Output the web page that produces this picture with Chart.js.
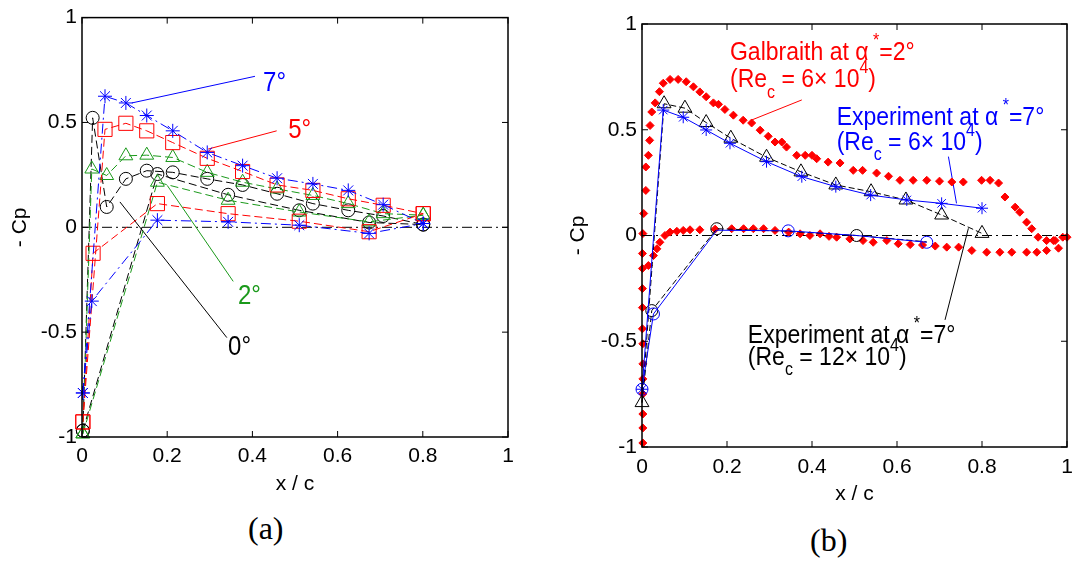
<!DOCTYPE html>
<html>
<head>
<meta charset="utf-8">
<script src="https://cdn.jsdelivr.net/npm/chart.js@4.4.0/dist/chart.umd.min.js"></script>
<style>
    body { margin: 0; background: #fff; width: 1073px; height: 568px; overflow: hidden; position: relative; }
    #panel-a { position: absolute; left: 0; top: 0; }
    #panel-b { position: absolute; left: 545px; top: 0; }
    .cap { position: absolute; font-family: "Liberation Serif", "DejaVu Serif", serif; font-size: 32px; line-height: 1; color: #000; }
</style>
</head>
<body>
<canvas id="panel-a" width="530" height="501"></canvas>
<canvas id="panel-b" width="545" height="511"></canvas>
<div class="cap" style="left:248px; top:512px;">(a)</div>
<div class="cap" style="left:810px; top:524px;">(b)</div>
<script>
// ---- panel (a): -Cp vs x/c for four incidences, upper and lower surface taps
let a7UpX = [0.002, 0.054, 0.103, 0.152, 0.213, 0.294, 0.377, 0.458, 0.542, 0.625, 0.707, 0.801];
let a7UpY = [-0.79, 0.625, 0.593, 0.533, 0.46, 0.357, 0.294, 0.234, 0.207, 0.176, 0.108, 0.018];
let a7LoX = [0.002, 0.023, 0.177, 0.343, 0.51, 0.674, 0.801];
let a7LoY = [-0.79, -0.352, 0.034, 0.026, 0.01, -0.029, 0.018];

let a5UpX = [0.002, 0.054, 0.103, 0.152, 0.213, 0.294, 0.377, 0.458, 0.542, 0.625, 0.707, 0.801];
let a5UpY = [-0.928, 0.467, 0.496, 0.46, 0.404, 0.329, 0.266, 0.202, 0.176, 0.136, 0.105, 0.065];
let a5LoX = [0.002, 0.026, 0.177, 0.343, 0.51, 0.674, 0.801];
let a5LoY = [-0.928, -0.124, 0.113, 0.065, 0.029, -0.021, 0.065];

let a2UpX = [0.002, 0.023, 0.058, 0.103, 0.152, 0.213, 0.294, 0.377, 0.458, 0.542, 0.625, 0.707, 0.801];
let a2UpY = [-0.985, 0.278, 0.247, 0.341, 0.344, 0.333, 0.262, 0.215, 0.183, 0.152, 0.113, 0.065, 0.058];
let a2LoX = [0.002, 0.177, 0.343, 0.51, 0.674, 0.801];
let a2LoY = [-0.985, 0.215, 0.129, 0.073, 0.026, 0.058];

let a0UpX = [0.002, 0.025, 0.058, 0.103, 0.152, 0.213, 0.294, 0.377, 0.458, 0.542, 0.625, 0.707, 0.801];
let a0UpY = [-0.97, 0.522, 0.097, 0.231, 0.27, 0.262, 0.231, 0.202, 0.16, 0.113, 0.081, 0.054, 0.013];
let a0LoX = [0.002, 0.177, 0.343, 0.51, 0.674, 0.801];
let a0LoY = [-0.97, 0.254, 0.155, 0.081, 0.023, 0.013];

// leader lines from the curves to the angle labels
let lead7X = [0.117, 0.406], lead7Y = [0.593, 0.72];
let lead5X = [0.296, 0.457], lead5Y = [0.373, 0.46];
let lead2X = [0.2, 0.355], lead2Y = [0.2, -0.258];
let lead0X = [0.089, 0.34], lead0Y = [0.121, -0.526];

// ---- panel (b): Galbraith computation vs experiment
let galUpX = [0.002, 0.002, 0.002, 0.002, 0.002, 0.002, 0.002, 0.001, 0.001, 0.001, 0.001, 0.001, 0.002, 0.004, 0.009, 0.009,
    0.015, 0.018, 0.019, 0.023, 0.031, 0.041, 0.05, 0.066, 0.085, 0.104, 0.121, 0.136, 0.151, 0.168, 0.18, 0.195, 0.215,
    0.238, 0.258, 0.278, 0.297, 0.313, 0.329, 0.34, 0.364, 0.384, 0.4, 0.411, 0.438, 0.466, 0.497, 0.519, 0.552, 0.58,
    0.607, 0.638, 0.67, 0.7, 0.729, 0.756, 0.799, 0.819, 0.839, 0.854, 0.878, 0.889, 0.905, 0.917, 0.932, 0.952, 0.972, 0.99, 1.0];
let galUpY = [-0.981, -0.91, -0.844, -0.749, -0.678, -0.607, -0.512, -0.441, -0.341, -0.251, -0.156, -0.085, 0.009, 0.104, 0.213, 0.324,
    0.379, 0.45, 0.52, 0.584, 0.627, 0.68, 0.72, 0.738, 0.738, 0.727, 0.703, 0.679, 0.656, 0.627, 0.62, 0.596, 0.569,
    0.545, 0.532, 0.498, 0.469, 0.442, 0.442, 0.418, 0.379, 0.379, 0.379, 0.363, 0.347, 0.343, 0.308, 0.308, 0.295, 0.28,
    0.261, 0.261, 0.261, 0.257, 0.253, 0.253, 0.261, 0.261, 0.248, 0.182, 0.134, 0.11, 0.063, 0.032, -0.008, -0.024, -0.024, -0.008, -0.008];
let galLoX = [0.015, 0.027, 0.035, 0.042, 0.054, 0.066, 0.082, 0.097, 0.113, 0.136, 0.172, 0.211, 0.239, 0.262, 0.286, 0.313,
    0.345, 0.372, 0.395, 0.419, 0.44, 0.458, 0.489, 0.52, 0.544, 0.576, 0.603, 0.631, 0.66, 0.69, 0.717, 0.745, 0.776,
    0.811, 0.842, 0.87, 0.905, 0.929, 0.952, 0.968, 0.98];
let galLoY = [-0.142, -0.095, -0.063, -0.032, 0.0, 0.016, 0.02, 0.024, 0.027, 0.027, 0.03, 0.032, 0.032, 0.032, 0.032, 0.024,
    0.016, 0.008, 0.0, 0.008, -0.004, -0.008, -0.016, -0.024, -0.032, -0.024, -0.039, -0.043, -0.045, -0.05, -0.055, -0.055, -0.071,
    -0.079, -0.079, -0.079, -0.079, -0.079, -0.071, -0.024, -0.06];

let exp6UpX = [0, 0.05, 0.097, 0.151, 0.207, 0.293, 0.376, 0.456, 0.538, 0.623, 0.705, 0.8];
let exp6UpY = [-0.727, 0.593, 0.559, 0.499, 0.436, 0.349, 0.278, 0.231, 0.191, 0.168, 0.152, 0.129];
let exp6LoX = [0, 0.027, 0.176, 0.344, 0.505, 0.67];
let exp6LoY = [-0.727, -0.371, 0.025, 0.022, 0.0, -0.032];

let exp12UpX = [0, 0.052, 0.101, 0.151, 0.209, 0.293, 0.374, 0.456, 0.539, 0.621, 0.705, 0.8];
let exp12UpY = [-0.79, 0.623, 0.602, 0.534, 0.46, 0.37, 0.301, 0.239, 0.207, 0.168, 0.097, 0.01];
let exp12LoX = [0, 0.023, 0.176, 0.34, 0.505, 0.67];
let exp12LoY = [-0.79, -0.355, 0.032, 0.02, 0.0, -0.03];

let galLeadX = [0.258, 0.376], galLeadY = [0.546, 0.641];
let e6LeadX = [0.721, 0.74], e6LeadY = [0.373, 0.152];
let e12LeadX = [0.768, 0.713], e12LeadY = [0.034, -0.399];

let zeroX = [0, 1], zeroY = [0, 0];
let xTicks = [0, 0.2, 0.4, 0.6, 0.8, 1];
let yTicks = [-1, -0.5, 0, 0.5, 1];

const FONT = '"Liberation Sans", Arial, sans-serif';
const GREEN = '#1a991a';

function pts(xs, ys) {
    let out = [];
    for (let i = 0; i < xs.length; i++) {
        out.push({ x: xs[i], y: ys[i] });
    }
    return out;
}

function series(xs, ys, color, style, radius, dash, showLine) {
    return {
        data: pts(xs, ys),
        borderColor: color,
        backgroundColor: 'rgba(0,0,0,0)',
        pointStyle: style,
        pointRadius: radius,
        pointBorderColor: color,
        pointBackgroundColor: 'rgba(0,0,0,0)',
        pointBorderWidth: 1,
        borderWidth: 1,
        borderDash: dash,
        showLine: showLine,
        fill: false,
        tension: 0,
        clip: false
    };
}

function line_only(xs, ys, color, dash) {
    return series(xs, ys, color, false, 0, dash, true);
}

// text with super/subscripts, anchored at left / vertical middle
function draw_rich(ctx, parts, x, y, size, stretch) {
    ctx.save();
    ctx.translate(x, y);
    ctx.scale(1, stretch);
    ctx.textBaseline = 'middle';
    ctx.textAlign = 'left';
    let cx = 0;
    parts.forEach(function (p) {
        let txt = p, fs = size, dy = 0;
        if (Array.isArray(p)) {
            txt = p[1];
            fs = Math.round(size * 0.7);
            dy = p[0] == 'sup' ? -size * 0.45 : size * 0.5;
        }
        ctx.font = fs + 'px ' + FONT;
        ctx.fillText(txt, cx, dy);
        cx += ctx.measureText(txt).width;
    });
    ctx.restore();
}

// closed box, inward ticks on all four sides, and the text notes
function make_frame(notes) {
    return {
        id: 'frame',
        afterDatasetsDraw: function (chart) {
            let ctx = chart.ctx, a = chart.chartArea;
            let xs = chart.scales.x, ys = chart.scales.y;
            ctx.save();
            ctx.strokeStyle = '#000';
            ctx.lineWidth = 1.5;
            ctx.strokeRect(a.left, a.top, a.right - a.left, a.bottom - a.top);
            ctx.lineWidth = 1;
            ctx.beginPath();
            xTicks.forEach(function (v) {
                let p = xs.getPixelForValue(v);
                ctx.moveTo(p, a.bottom); ctx.lineTo(p, a.bottom - 6);
                ctx.moveTo(p, a.top); ctx.lineTo(p, a.top + 6);
            });
            yTicks.forEach(function (v) {
                let p = ys.getPixelForValue(v);
                ctx.moveTo(a.left, p); ctx.lineTo(a.left + 6, p);
                ctx.moveTo(a.right, p); ctx.lineTo(a.right - 6, p);
            });
            ctx.stroke();
            notes.forEach(function (n) {
                ctx.fillStyle = n.color;
                draw_rich(ctx, n.parts, xs.getPixelForValue(n.x), ys.getPixelForValue(n.y), n.size, n.stretch);
            });
            ctx.restore();
        }
    };
}

function tick_text(v) {
    return String(v);
}

function make_scales(yWidth, xHeight, xPad) {
    return {
        x: {
            type: 'linear', min: 0, max: 1,
            afterFit: function (s) { s.height = xHeight; },
            afterBuildTicks: function (s) { s.ticks = xTicks.map(function (v) { return { value: v }; }); },
            ticks: { color: '#000', font: { size: 21, family: FONT }, padding: xPad, maxRotation: 0, autoSkip: false, callback: tick_text },
            grid: { display: false, drawTicks: false },
            border: { display: false },
            title: { display: true, text: 'x / c', color: '#000', font: { size: 21, family: FONT }, padding: { top: 4, bottom: 4 } }
        },
        y: {
            type: 'linear', min: -1, max: 1,
            afterFit: function (s) { s.width = yWidth; },
            afterBuildTicks: function (s) { s.ticks = yTicks.map(function (v) { return { value: v }; }); },
            ticks: { color: '#000', font: { size: 21, family: FONT }, padding: 5, autoSkip: false, callback: tick_text },
            grid: { display: false, drawTicks: false },
            border: { display: false },
            title: { display: true, text: '- Cp', color: '#000', font: { size: 21, family: FONT }, padding: { top: 4, bottom: 4 } }
        }
    };
}

function draw_panel_a() {
    let notes_a = [
        { x: 0.425, y: 0.688, color: '#0000ff', parts: ['7°'], size: 24, stretch: 1.15 },
        { x: 0.484, y: 0.462, color: '#ff0000', parts: ['5°'], size: 24, stretch: 1.15 },
        { x: 0.366, y: -0.329, color: GREEN, parts: ['2°'], size: 24, stretch: 1.15 },
        { x: 0.343, y: -0.575, color: '#000000', parts: ['0°'], size: 24, stretch: 1.15 }
    ];
    let ctx = document.getElementById('panel-a');
    new Chart(ctx, {
        type: 'scatter',
        data: {
            datasets: [
                series(a7UpX, a7UpY, '#0000ff', 'star', 7, [10, 4, 2, 4], true),
                series(a7LoX, a7LoY, '#0000ff', 'star', 7, [10, 4, 2, 4], true),
                series(a5UpX, a5UpY, '#ff0000', 'rect', 10, [8, 4], true),
                series(a5LoX, a5LoY, '#ff0000', 'rect', 10, [8, 4], true),
                series(a2UpX, a2UpY, GREEN, 'triangle', 8, [8, 4], true),
                series(a2LoX, a2LoY, GREEN, 'triangle', 8, [8, 4], true),
                series(a0UpX, a0UpY, '#000000', 'circle', 6.5, [8, 4], true),
                series(a0LoX, a0LoY, '#000000', 'circle', 6.5, [8, 4], true),
                line_only(lead7X, lead7Y, '#0000ff', []),
                line_only(lead5X, lead5Y, '#ff0000', []),
                line_only(lead2X, lead2Y, GREEN, []),
                line_only(lead0X, lead0Y, '#000000', []),
                line_only(zeroX, zeroY, '#000000', [10, 4, 2, 4])
            ]
        },
        options: {
            responsive: false,
            animation: false,
            events: [],
            layout: { padding: { left: 4, top: 14, right: 22, bottom: 0 } },
            scales: make_scales(78, 64, 7),
            plugins: { legend: { display: false }, tooltip: { enabled: false } }
        },
        plugins: [make_frame(notes_a)]
    });
}

function draw_panel_b() {
    let notes_b = [
        { x: 0.207, y: 0.863, color: '#ff0000', parts: ['Galbraith at α', ['sup', ' *'], '=2°'], size: 23, stretch: 1.12 },
        { x: 0.207, y: 0.735, color: '#ff0000', parts: ['(Re', ['sub', 'c'], ' = 6× 10', ['sup', '4'], ')'], size: 23, stretch: 1.12 },
        { x: 0.458, y: 0.557, color: '#0000ff', parts: ['Experiment at α', ['sup', ' *'], '=7°'], size: 23, stretch: 1.12 },
        { x: 0.458, y: 0.44, color: '#0000ff', parts: ['(Re', ['sub', 'c'], ' = 6× 10', ['sup', '4'], ')'], size: 23, stretch: 1.12 },
        { x: 0.249, y: -0.475, color: '#000000', parts: ['Experiment at α', ['sup', ' *'], '=7°'], size: 23, stretch: 1.12 },
        { x: 0.249, y: -0.577, color: '#000000', parts: ['(Re', ['sub', 'c'], ' = 12× 10', ['sup', '4'], ')'], size: 23, stretch: 1.12 }
    ];
    let gal_up = series(galUpX, galUpY, '#ff0000', 'rectRot', 4, [], false);
    let gal_lo = series(galLoX, galLoY, '#ff0000', 'rectRot', 4, [], false);
    gal_up.pointBackgroundColor = '#ff0000';
    gal_lo.pointBackgroundColor = '#ff0000';
    let e6lo = series(exp6LoX, exp6LoY, '#0000ff', 'circle', 6, [], true);
    e6lo.pointRadius = [6, 6, 0, 6, 0, 6];
    let e12lo = series(exp12LoX, exp12LoY, '#000000', 'circle', 6, [6, 3], true);
    e12lo.pointRadius = [0, 6, 6, 0, 6, 0];
    let ctx = document.getElementById('panel-b');
    new Chart(ctx, {
        type: 'scatter',
        data: {
            datasets: [
                series(exp6UpX, exp6UpY, '#0000ff', 'star', 6, [], true),
                e6lo,
                e12lo,
                series(exp12UpX, exp12UpY, '#000000', 'triangle', 8, [6, 3], true),
                gal_up,
                gal_lo,
                line_only(galLeadX, galLeadY, '#ff0000', []),
                line_only(e6LeadX, e6LeadY, '#0000ff', []),
                line_only(e12LeadX, e12LeadY, '#000000', []),
                line_only(zeroX, zeroY, '#000000', [10, 4, 2, 4])
            ]
        },
        options: {
            responsive: false,
            animation: false,
            events: [],
            layout: { padding: { left: 17, top: 24, right: 23, bottom: 0 } },
            scales: make_scales(80, 64, 8),
            plugins: { legend: { display: false }, tooltip: { enabled: false } }
        },
        plugins: [make_frame(notes_b)]
    });
}

draw_panel_a();
draw_panel_b();
</script>
</body>
</html>
